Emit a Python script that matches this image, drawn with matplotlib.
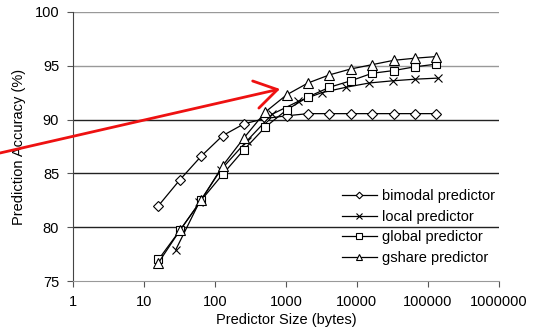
import matplotlib
matplotlib.use('Agg')
import matplotlib.pyplot as plt

plt.rcParams['font.family'] = ['Liberation Sans', 'DejaVu Sans']

# predictor sizes (bytes)
sizes = [16, 32, 64, 128, 256, 512, 1024, 2048, 4096, 8192, 16384, 32768, 65536, 131072]
local_sizes = [28, 60, 120, 280, 640, 1500, 3200, 7000, 15000, 32000, 66000, 138000]

bimodal = [82.0, 84.4, 86.6, 88.5, 89.6, 90.1, 90.35, 90.55, 90.55, 90.55, 90.55, 90.55, 90.55, 90.55]
local = [77.9, 82.3, 85.3, 88.0, 90.5, 91.7, 92.5, 93.0, 93.4, 93.6, 93.75, 93.85]
global_ = [77.0, 79.7, 82.5, 84.9, 87.2, 89.3, 90.9, 92.1, 93.0, 93.6, 94.3, 94.55, 94.9, 95.15]
gshare = [76.7, 79.7, 82.5, 85.7, 88.3, 90.7, 92.3, 93.4, 94.15, 94.7, 95.1, 95.5, 95.7, 95.85]

y_ticks = [75, 80, 85, 90, 95, 100]
x_ticks = [1, 10, 100, 1000, 10000, 100000, 1000000]

fig = plt.figure(figsize=(5.37, 3.31), dpi=100)
ax = fig.add_axes([0.136, 0.151, 0.793, 0.813])

grid_colors = {80: '#222222', 85: '#222222', 90: '#222222', 95: '#999999', 100: '#999999'}
for yv, c in grid_colors.items():
    ax.axhline(yv, color=c, lw=1.0, zorder=1)

common = dict(color='black', lw=0.9, mfc='white', mec='black', mew=0.8, zorder=3)
ax.plot(sizes, bimodal, marker='D', ms=4.8, label='bimodal predictor', **common)
ax.plot(local_sizes, local, marker='x', ms=6, label='local predictor', **common)
ax.plot(sizes, global_, marker='s', ms=6.2, label='global predictor', **common)
ax.plot(sizes, gshare, marker='^', ms=6.8, label='gshare predictor', **common)

ax.set_xscale('log')
ax.set_xlim(1, 1000000)
ax.set_ylim(75, 100)
ax.set_xticks(x_ticks)
ax.set_xticklabels([str(v) for v in x_ticks])
ax.minorticks_off()
ax.set_yticks(y_ticks)
ax.tick_params(labelsize=10.5, length=4, width=0.8, color='#555555', pad=6)

for s in ['top', 'right']:
    ax.spines[s].set_visible(False)
ax.spines['left'].set_color('#444444')
ax.spines['bottom'].set_color('#999999')

ax.set_xlabel('Predictor Size (bytes)', fontsize=10.5, labelpad=3)
ax.set_ylabel('Prediction Accuracy (%)', fontsize=10.5, labelpad=6)

ax.legend(loc='upper left', bbox_to_anchor=(0.6, 0.39), frameon=False, fontsize=10.5,
          handlelength=2.4, labelspacing=0.45, handletextpad=0.4, markerscale=0.7)

ax.annotate('', xy=(280, 242), xytext=(0, 178), xycoords='figure pixels',
            textcoords='figure pixels',
            arrowprops=dict(arrowstyle='->, head_length=0.8, head_width=0.5',
                            color='#ee1111', lw=2, mutation_scale=20,
                            shrinkA=0, shrinkB=0))

fig.savefig('out.png', dpi=100)
